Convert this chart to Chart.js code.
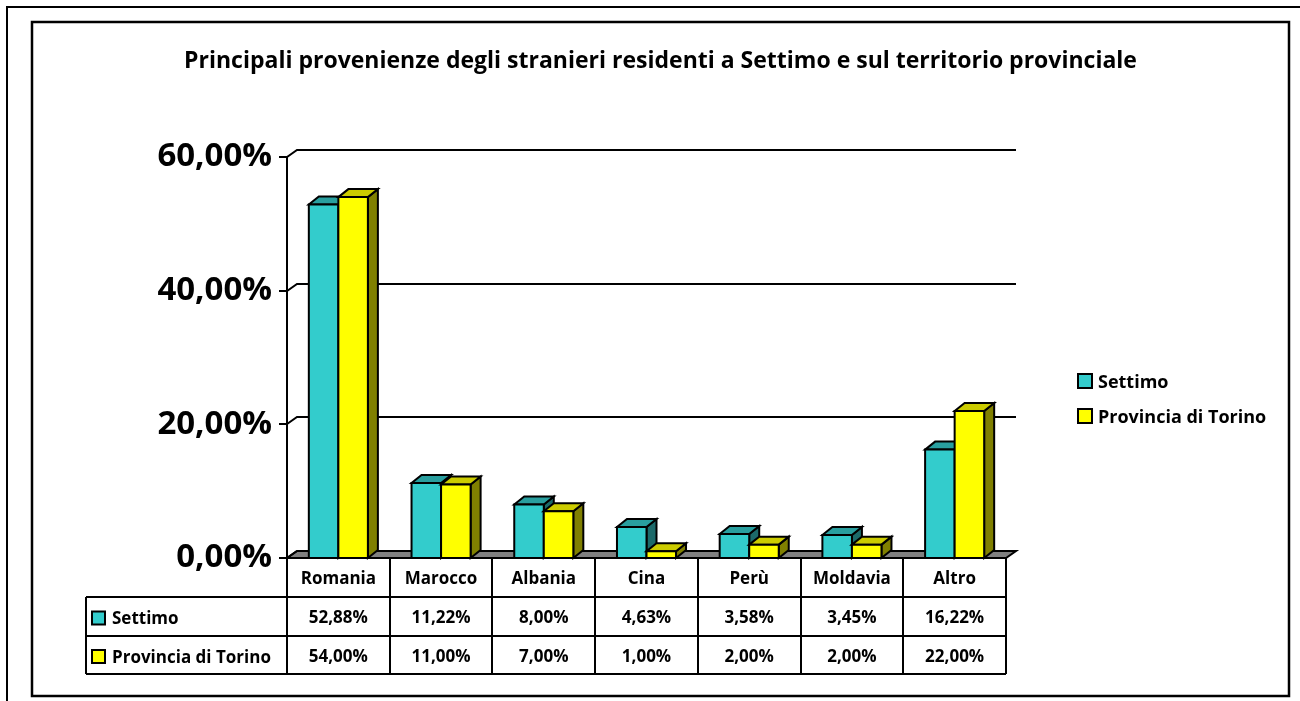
<!DOCTYPE html>
<html>
<head>
<meta charset="utf-8">
<script src="https://cdn.jsdelivr.net/npm/chart.js@4.4.0/dist/chart.umd.min.js"></script>
<style>
  html, body { margin: 0; padding: 0; background: #fff; overflow: hidden; }
  #grafico { display: block; }
</style>
</head>
<body>
<canvas id="grafico" width="1300" height="701"></canvas>
<script>
// Dati
const paesi = ['Romania', 'Marocco', 'Albania', 'Cina', 'Perù', 'Moldavia', 'Altro'];
const settimo = [52.88, 11.22, 8.00, 4.63, 3.58, 3.45, 16.22];
const provincia = [54.00, 11.00, 7.00, 1.00, 2.00, 2.00, 22.00];
const serie = ['Settimo', 'Provincia di Torino'];
const tickY = [0, 20, 40, 60];
const titolo = 'Principali provenienze degli stranieri residenti a Settimo e sul territorio provinciale';

// Colori: fronte, cima, lato
const colori = [
    { front: '#33CCCC', top: '#299F9F', side: '#1C6A6A' },
    { front: '#FFFF00', top: '#CCCC00', side: '#808000' }
];
const FONT = '"Open Sans", "Noto Sans", sans-serif';
const fmt = v => v.toFixed(2).replace('.', ',') + '%';

// Profondità 3D
const WX = 10, WY = -7;   // pareti
const BX = 10, BY = -8;   // barre

function poly(ctx, pts, fill) {
    ctx.beginPath();
    ctx.moveTo(pts[0][0], pts[0][1]);
    for (let k = 1; k < pts.length; k++) ctx.lineTo(pts[k][0], pts[k][1]);
    ctx.closePath();
    if (fill) { ctx.fillStyle = fill; ctx.fill(); }
    ctx.stroke();
}

// Pareti, pavimento e barre 3D disegnate con le coordinate delle barre di Chart.js
const barre3d = {
    id: 'barre3d',
    beforeDatasetsDraw(chart) {
        const { ctx, chartArea: a, scales: { y } } = chart;
        ctx.save();
        ctx.strokeStyle = '#000';
        ctx.lineWidth = 2;
        ctx.lineJoin = 'miter';

        // pavimento
        poly(ctx, [[a.left, a.bottom], [a.right, a.bottom], [a.right + WX, a.bottom + WY], [a.left + WX, a.bottom + WY]], '#808080');

        // griglia sulla parete di fondo
        tickY.forEach(v => {
            const yy = Math.round(y.getPixelForValue(v));
            ctx.beginPath();
            ctx.moveTo(a.left - 8, yy);
            ctx.lineTo(a.left, yy);
            ctx.lineTo(a.left + WX, yy + WY);
            if (v > 0) ctx.lineTo(a.right + WX, yy + WY);
            ctx.stroke();
        });
        // asse verticale
        ctx.beginPath();
        ctx.moveTo(a.left, y.getPixelForValue(tickY[tickY.length - 1]));
        ctx.lineTo(a.left, a.bottom);
        ctx.stroke();

        // barre: per categoria, prima Settimo poi Provincia
        const metas = [chart.getDatasetMeta(0), chart.getDatasetMeta(1)];
        paesi.forEach((p, i) => {
            metas.forEach((meta, d) => {
                const el = meta.data[i];
                const l = el.x - el.width / 2, r = el.x + el.width / 2;
                const t = el.y, b = el.base;
                const c = colori[d];
                poly(ctx, [[r, b], [r + BX, b + BY], [r + BX, t + BY], [r, t]], c.side);
                poly(ctx, [[l, t], [l + BX, t + BY], [r + BX, t + BY], [r, t]], c.top);
                poly(ctx, [[l, t], [r, t], [r, b], [l, b]], c.front);
            });
        });
        ctx.restore();
        return false;
    }
};

// Titolo, legenda, tabella dati e cornici
const decorazioni = {
    id: 'decorazioni',
    afterDraw(chart) {
        const { ctx, chartArea: a } = chart;
        ctx.save();
        ctx.strokeStyle = '#000';
        ctx.fillStyle = '#000';

        // cornici
        ctx.lineWidth = 2;
        ctx.beginPath();
        ctx.moveTo(7, 701); ctx.lineTo(7, 7); ctx.lineTo(1300, 7);
        ctx.stroke();
        ctx.lineWidth = 2.5;
        ctx.strokeRect(32, 22, 1257, 674);

        // titolo
        ctx.font = 'bold 23px ' + FONT;
        ctx.textAlign = 'center';
        ctx.textBaseline = 'middle';
        ctx.fillText(titolo, 660.5, 61);

        // legenda a destra
        ctx.lineWidth = 2;
        ctx.font = 'bold 18px ' + FONT;
        ctx.textAlign = 'left';
        [381, 416].forEach((cy, d) => {
            ctx.fillStyle = colori[d].front;
            ctx.fillRect(1078, cy - 7, 14, 14);
            ctx.strokeRect(1078, cy - 7, 14, 14);
            ctx.fillStyle = '#000';
            ctx.fillText(serie[d], 1098, cy + 2);
        });

        // tabella dati
        const righe = [a.bottom, a.bottom + 39, a.bottom + 78, a.bottom + 116];
        const catW = (a.right - a.left) / paesi.length;
        ctx.lineWidth = 2;
        ctx.beginPath();
        for (let k = 1; k < righe.length; k++) {
            ctx.moveTo(86, righe[k]); ctx.lineTo(a.right, righe[k]);
        }
        for (let k = 0; k <= paesi.length; k++) {
            const xx = Math.round(a.left + k * catW);
            ctx.moveTo(xx, righe[0]); ctx.lineTo(xx, righe[3]);
        }
        ctx.moveTo(86, righe[1]); ctx.lineTo(86, righe[3]);
        ctx.stroke();

        ctx.font = 'bold 17px ' + FONT;
        ctx.textAlign = 'center';
        const valori = [settimo, provincia];
        paesi.forEach((p, i) => {
            const cx = a.left + (i + 0.5) * catW;
            ctx.fillText(p, cx, (righe[0] + righe[1]) / 2 + 2);
            valori.forEach((arr, d) => {
                ctx.fillText(fmt(arr[i]), cx, (righe[d + 1] + righe[d + 2]) / 2 + 2);
            });
        });
        ctx.textAlign = 'left';
        serie.forEach((s, d) => {
            const cy = (righe[d + 1] + righe[d + 2]) / 2;
            ctx.fillStyle = colori[d].front;
            ctx.fillRect(92, cy - 5, 13, 13);
            ctx.strokeRect(92, cy - 5, 13, 13);
            ctx.fillStyle = '#000';
            ctx.fillText(s, 112, cy + 3);
        });
        ctx.restore();
    }
};

const ctx = document.getElementById('grafico').getContext('2d');
new Chart(ctx, {
    type: 'bar',
    data: {
        labels: paesi,
        datasets: [
            { label: serie[0], data: settimo, backgroundColor: colori[0].front },
            { label: serie[1], data: provincia, backgroundColor: colori[1].front }
        ]
    },
    options: {
        responsive: false,
        animation: false,
        devicePixelRatio: 1,
        categoryPercentage: 0.575,
        barPercentage: 1,
        layout: { padding: { left: 0, right: 294, top: 157, bottom: 143 } },
        scales: {
            x: { display: false },
            y: {
                min: 0,
                max: 60,
                afterFit(scale) { scale.width = 287; },
                ticks: {
                    stepSize: 20,
                    padding: 15,
                    color: '#000',
                    font: { family: FONT, size: 33, weight: 'bold' },
                    callback: v => fmt(v)
                },
                grid: { display: false, drawTicks: false },
                border: { display: false }
            }
        },
        plugins: {
            legend: { display: false },
            title: { display: false },
            tooltip: { enabled: false }
        }
    },
    plugins: [barre3d, decorazioni]
});
</script>
</body>
</html>
